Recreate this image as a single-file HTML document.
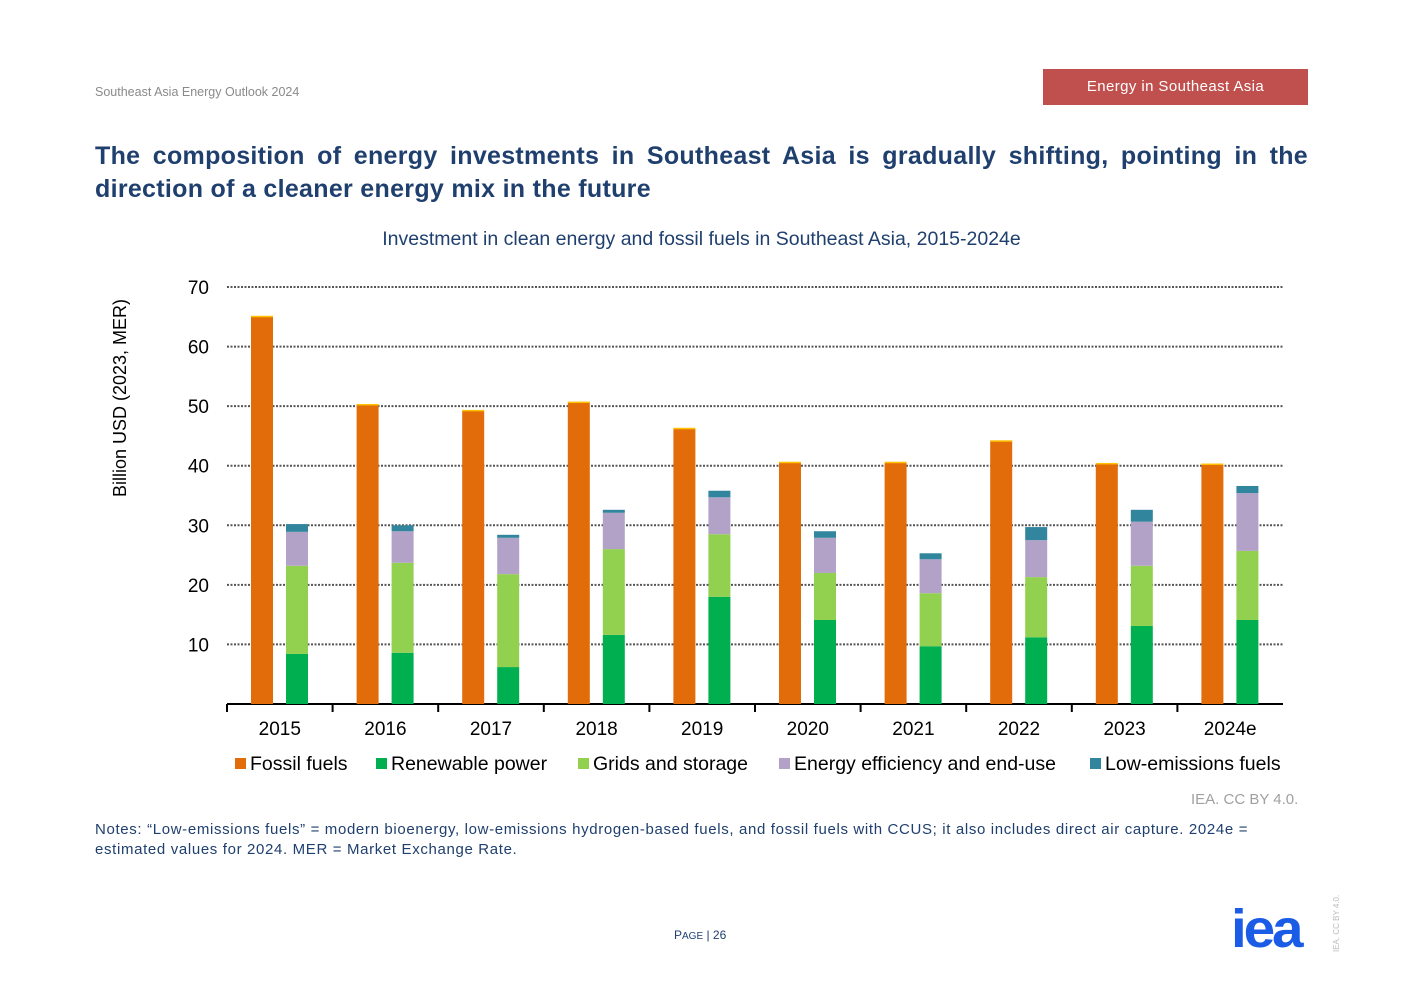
<!DOCTYPE html>
<html><head><meta charset="utf-8"><style>
body{margin:0;width:1403px;height:992px;background:#fff;font-family:"Liberation Sans",sans-serif;position:relative;overflow:hidden}
.abs{position:absolute}
</style></head><body>
<div class="abs" style="left:95px;top:85px;font-size:12.5px;color:#8a8a8a">Southeast Asia Energy Outlook 2024</div>
<div class="abs" style="left:1043px;top:69px;width:265px;height:36px;background:#c0504d;color:#fff;font-size:15px;line-height:36px;text-align:center;letter-spacing:0.4px">Energy in Southeast Asia</div>
<div class="abs" style="left:95px;top:140px;width:1213px;font-size:25px;font-weight:bold;color:#1f3f6e;line-height:33px;text-align:justify;text-align-last:left;letter-spacing:0.3px">The composition of energy investments in Southeast Asia is gradually shifting, pointing in the direction of a cleaner energy mix in the future</div>
<div class="abs" style="left:0;width:1403px;top:228px;text-align:center;font-size:19.5px;color:#1f3f6e">Investment in clean energy and fossil fuels in Southeast Asia, 2015-2024e</div>
<svg class="abs" style="left:0;top:0" width="1403" height="992" id="chart"></svg>
<div class="abs" style="left:1191px;top:791px;font-size:15px;color:#a0a0a0">IEA. CC BY 4.0.</div>
<div class="abs" style="left:95px;top:820px;width:1180px;font-size:15px;color:#1f3f6e;line-height:20px;letter-spacing:0.65px">Notes: “Low-emissions fuels” = modern bioenergy, low-emissions hydrogen-based fuels, and fossil fuels with CCUS; it also includes direct air capture. 2024e = estimated values for 2024. MER = Market Exchange Rate.</div>
<div class="abs" style="left:674px;top:928px;font-size:12px;color:#1f3f6e">P<span style="font-size:10px">AGE</span> | 26</div>
<div class="abs" style="left:1231px;top:902px;font-size:54px;font-weight:bold;color:#1a5ce6;letter-spacing:-3px;line-height:54px;transform:scaleX(1.05);transform-origin:0 0">iea</div>
<div class="abs" style="left:1332px;top:952px;font-size:8px;color:#bbb;transform:rotate(-90deg);transform-origin:0 0">IEA. CC BY 4.0.</div>
<script>
const categories=["2015","2016","2017","2018","2019","2020","2021","2022","2023","2024e"];
const fossil=[65,50.2,49.2,50.6,46.2,40.5,40.5,44.1,40.3,40.2];
const renewable=[8.4,8.6,6.2,11.6,18.0,14.1,9.7,11.2,13.1,14.1];
const grids=[14.8,15.1,15.6,14.4,10.5,7.9,8.9,10.1,10.1,11.6];
const efficiency=[5.7,5.3,6.1,6.1,6.2,5.9,5.7,6.2,7.4,9.7];
const lowEmissions=[1.3,1.0,0.5,0.5,1.1,1.1,1.0,2.2,2.0,1.2];
const yTicks=[10,20,30,40,50,60,70];
const seriesNames=["Fossil fuels","Renewable power","Grids and storage","Energy efficiency and end-use","Low-emissions fuels"];
const colors=["#e36c0a","#00b050","#92d050","#b3a2c7","#31859c"];
const svg=document.getElementById('chart');const NS="http://www.w3.org/2000/svg";
const x0=227,x1=1283,y0=704,y70=287;
const y=v=>y0-(v/70)*(y0-y70);
const bw=(x1-x0)/categories.length;
function mk(t,a,txt){const e=document.createElementNS(NS,t);for(const k in a)e.setAttribute(k,a[k]);if(txt!==undefined)e.textContent=txt;svg.appendChild(e);return e;}
yTicks.forEach(v=>{
 const l=mk('line',{x1:x0,x2:x1,y1:y(v),y2:y(v),stroke:'#555','stroke-width':2,'stroke-dasharray':'2,1.5'});
 
 
 const t=mk('text',{x:209,y:y(v)+7,'text-anchor':'end','font-size':19,fill:'#000','font-family':'Liberation Sans'},v);
 
 
});
const yt=mk('text',{transform:'translate(126,398) rotate(-90)','text-anchor':'middle','font-size':18,fill:'#000','font-family':'Liberation Sans'},'Billion USD (2023, MER)');


const ax=mk('line',{x1:x0,x2:x1,y1:y0,y2:y0,stroke:'#000','stroke-width':2});


categories.forEach((c,i)=>{
 const cx=x0+i*bw;
 const tk=mk('line',{x1:cx,x2:cx,y1:y0,y2:y0+8,stroke:'#000','stroke-width':2});
 
 
 const lb=mk('text',{x:cx+bw/2,y:735,'text-anchor':'middle','font-size':19,fill:'#000','font-family':'Liberation Sans'},c);
 
 
 const fb=mk('rect',{x:cx+24,y:y(fossil[i]),width:22,height:y0-y(fossil[i]),fill:colors[0]});
 
 
 const cap=mk('rect',{x:cx+24,y:y(fossil[i])-1,width:22,height:1.5,fill:'#ffc000'});
 
 
 let base=0;
 [renewable,grids,efficiency,lowEmissions].forEach((s,k)=>{
  const r=mk('rect',{x:cx+59,y:y(base+s[i]),width:22,height:y(base)-y(base+s[i]),fill:colors[k+1]});
  
  
  base+=s[i];
 });
});
const lx=[235,376,578,779,1090];
seriesNames.forEach((n,i)=>{
 const r=mk('rect',{x:lx[i],y:758,width:11,height:11,fill:colors[i]});
 
 
 const t=mk('text',{x:lx[i]+15,y:770,'font-size':19.5,fill:'#000','font-family':'Liberation Sans'},n);
 
 
});
</script>
</body></html>
